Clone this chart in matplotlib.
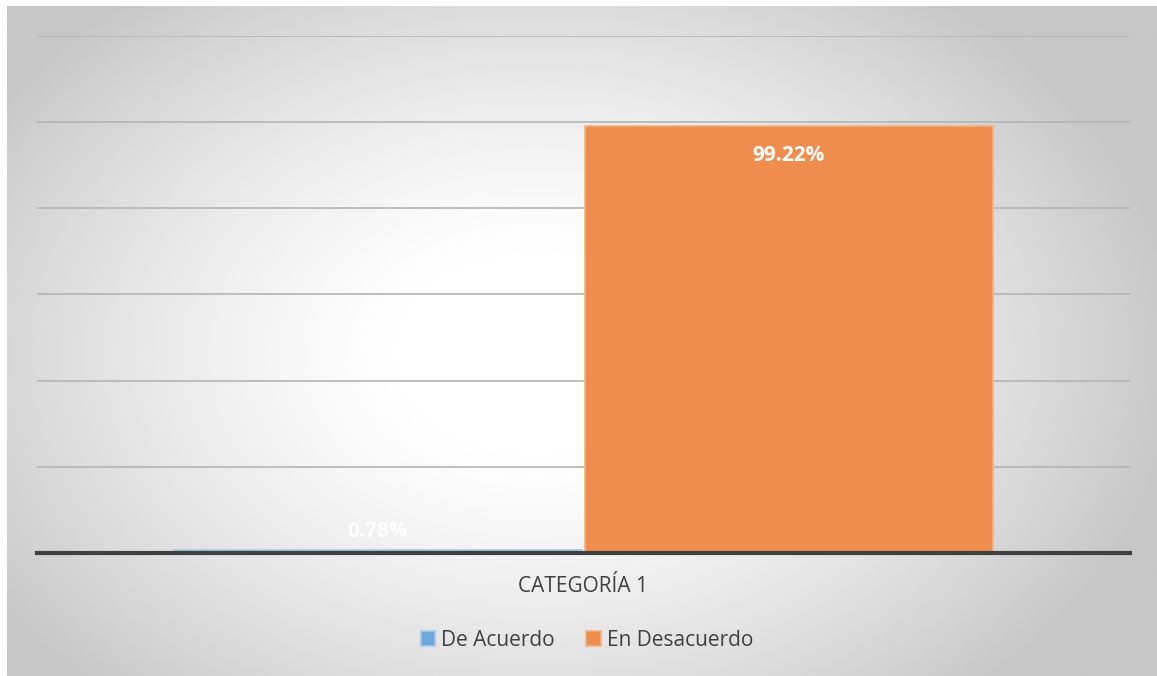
import numpy as np
import matplotlib.pyplot as plt
from matplotlib.ticker import MultipleLocator

# survey result, single category
categories = ['CATEGORÍA 1']
series_names = ['De Acuerdo', 'En Desacuerdo']
series_values = [0.0078, 0.9922]
series_labels = ['0.78%', '99.22%']
colors = ['#6fa8dc', '#ee8d4d']
edge_colors = ['#a9c9ea', '#f4b183']

W, H = 1157, 676
fig = plt.figure(figsize=(W / 100, H / 100), dpi=100)
fig.patch.set_facecolor('white')
plt.rcParams['font.family'] = ['Open Sans', 'DejaVu Sans']

# radial gray-to-white background panel
x0 = 7 / W
bg = fig.add_axes([x0, 0.0, 1 - x0, 1 - 6 / H], zorder=0)
gx, gy = np.meshgrid(np.linspace(0, 1, 400), np.linspace(0, 1, 240))
cx, cy = 0.46, 0.52
r = np.sqrt(((gx - cx) * 1.1) ** 2 + ((gy - cy) * 0.9) ** 2)
shade = 1.0 - 0.22 * np.clip((r - 0.12) / 0.5, 0, 1) ** 1.3
bg.imshow(shade, cmap='gray', vmin=0, vmax=1, aspect='auto',
          extent=[0, 1, 0, 1], origin='upper', interpolation='bicubic')
bg.set_axis_off()

# main plot area
ax = fig.add_axes([37 / W, 1 - 553 / H, (1130 - 37) / W, (553 - 36) / H], zorder=1)
ax.patch.set_alpha(0)
bar_w = 411 / (1130 - 37)
positions = [-bar_w / 2, bar_w / 2]
ax.set_xlim(-0.5, 0.5)
ax.set_ylim(0, 1.2)

for pos, val, col, ec, name in zip(positions, series_values, colors, edge_colors, series_names):
    ax.bar(pos, val, width=bar_w * 0.995, color=col, label=name,
           edgecolor=ec, linewidth=1.2, zorder=3)

ax.text(positions[0], 0.05, series_labels[0], ha='center', va='center',
        color='white', fontsize=15, fontweight='bold', zorder=4)
ax.text(positions[1], series_values[1] - 0.07, series_labels[1], ha='center', va='center',
        color='white', fontsize=15, fontweight='bold', zorder=4)

ax.yaxis.set_major_locator(MultipleLocator(0.2))
ax.grid(axis='y', color='#b4b4b4', linewidth=1.2, zorder=0)
ax.set_yticklabels([])
ax.tick_params(left=False, bottom=False, labelbottom=False)
for s in ['top', 'right', 'left']:
    ax.spines[s].set_visible(False)
ax.spines['bottom'].set_color('#404040')
ax.spines['bottom'].set_linewidth(3)
ax.spines['bottom'].set_zorder(5)

fig.text(583 / W, 1 - 587 / H, categories[0], ha='center', va='center',
         fontsize=15, color='#404040')

leg = fig.legend(loc='center', bbox_to_anchor=(587 / W, 1 - 640 / H), ncol=2,
                 frameon=False, fontsize=15, handlelength=0.7, handleheight=0.7,
                 handletextpad=0.3, columnspacing=1.5)
for t in leg.get_texts():
    t.set_color('#404040')

fig.savefig('out.png', dpi=100)
